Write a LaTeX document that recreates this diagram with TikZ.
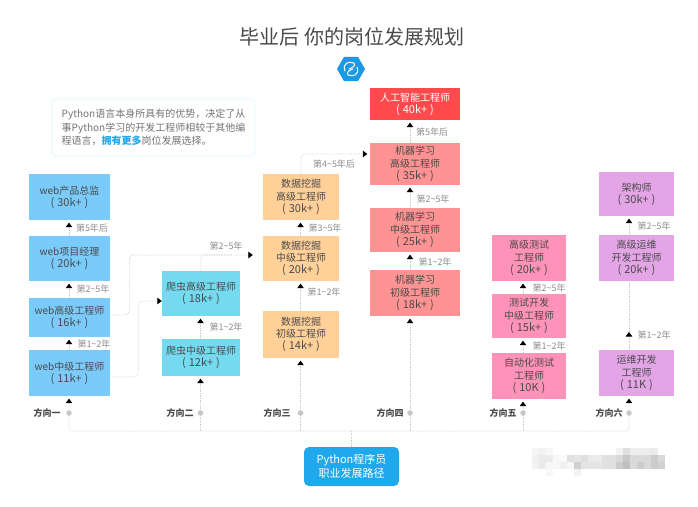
\documentclass[tikz,border=0pt]{standalone}
\usepackage{fontspec}
\usepackage{xcolor}
\usetikzlibrary{positioning,arrows.meta,shapes.geometric,calc,backgrounds}
\setmainfont{Noto Sans CJK SC}
\definecolor{ink}{HTML}{4A4A4A}
\definecolor{webblue}{HTML}{7ACBFA}
\definecolor{crawl}{HTML}{73DAF0}
\definecolor{mining}{HTML}{FFD199}
\definecolor{mlred}{HTML}{FF9292}
\definecolor{aired}{HTML}{FF4A4D}
\definecolor{testpink}{HTML}{FF92B8}
\definecolor{opsviolet}{HTML}{E3A5E6}
\definecolor{hubblue}{HTML}{1FA8EC}
\definecolor{logoblue}{HTML}{1A9AE2}
\newcommand{\tld}{\char"7E\relax}
\newcommand{\pay}[1]{{\fontsize{11}{12.2}\selectfont (\hspace{3pt}#1\hspace{3pt})}}

\begin{document}
\begin{tikzpicture}[x=1pt,y=-1pt,every node/.style={font=\fontsize{10}{12.2}\selectfont}]
    \tikzstyle{job}=[inner sep=0pt,align=center,text=ink];
    \tikzstyle{web}=[job,fill=webblue,minimum width=81pt];
    \tikzstyle{spider}=[job,fill=crawl,minimum width=78pt];
    \tikzstyle{datamine}=[job,fill=mining,minimum width=76pt];
    \tikzstyle{ml}=[job,fill=mlred,minimum width=90pt];
    \tikzstyle{qa}=[job,fill=testpink,minimum width=74pt];
    \tikzstyle{ops}=[job,fill=opsviolet,minimum width=75pt];
    \tikzstyle{yrs}=[text=black!45,font=\fontsize{9}{11}\selectfont,inner sep=0pt];
    \tikzstyle{dir}=[text=ink,font=\fontsize{9}{11}\selectfont\bfseries,inner sep=0pt];
    \tikzstyle{spot}=[circle,fill=black!22,minimum size=5.5pt,inner sep=0pt];
    \tikzstyle{link}=[draw=black!20,densely dotted,line width=0.7pt];
    \tikzstyle{flow}=[link,shorten >=2.5pt,-{Triangle[length=4.5pt,width=6.5pt,color=black]}];
    \useasboundingbox (0,0) rectangle (698,506);

    \node[text=ink,font=\fontsize{20}{24}\selectfont,inner sep=0pt] (title) at (352,37) {毕业后 你的岗位发展规划};
    \node[regular polygon,regular polygon sides=6,shape border rotate=0,fill=logoblue,minimum size=28pt,inner sep=0pt] (logo) at (351,69) {};
    \draw[white,line width=1pt,line cap=round] (345,71) .. controls (342,63) and (349,61) .. (354,63)
          .. controls (356,66) and (352,68) .. (349,69);
    \draw[white,line width=1pt,line cap=round] (357,67) .. controls (360,75) and (353,77) .. (348,75)
          .. controls (346,72) and (350,70) .. (353,69);

    \node[draw=blue!30!cyan!12,rounded corners=4pt,line width=0.7pt,minimum width=203pt,minimum height=57pt,
          inner sep=0pt,align=left,text=black!55,font=\fontsize{10}{13.6}\selectfont] (note) at (153.5,127.5)
          {Python语言本身所具有的优势，决定了从\\事Python学习的开发工程师相较于其他编\\程语言，\textcolor{hubblue}{\bfseries 拥有更多}岗位发展选择。};

    % direction one
    \node[web,minimum height=46pt] (w4) at (69.5,197)   {web产品总监\\\pay{30k+}};
    \node[web,minimum height=45pt] (w3) at (69.5,258.5) {web项目经理\\\pay{20k+}};
    \node[web,minimum height=39pt] (w2) at (69.5,317.5) {web高级工程师\\\pay{16k+}};
    \node[web,minimum height=46pt] (w1) at (69.5,373)   {web中级工程师\\\pay{11k+}};
    \node[spot] (d1) at (69,413) {};
    \node[dir]  (l1) at (47,413) {方向一};
    \node[yrs]  (y41) at (92,228) {第5年后};
    \node[yrs]  (y42) at (93,289) {第2\tld 5年};
    \node[yrs]  (y43) at (94,344) {第1\tld 2年};

    % direction two
    \node[spider,minimum height=45pt] (c2) at (201,293.5) {爬虫高级工程师\\\pay{18k+}};
    \node[spider,minimum height=37pt] (c1) at (201,357.5) {爬虫中级工程师\\\pay{12k+}};
    \node[spot] (d2) at (200.5,413) {};
    \node[dir]  (l2) at (180,413) {方向二};
    \node[yrs]  (y21) at (226,327) {第1\tld 2年};
    \node[yrs]  (y22) at (226,246) {第2\tld 5年};

    % direction three
    \node[datamine,minimum height=46pt] (s3) at (301,197)   {数据挖掘\\高级工程师\\\pay{30k+}};
    \node[datamine,minimum height=45pt] (s2) at (301,258.5) {数据挖掘\\中级工程师\\\pay{20k+}};
    \node[datamine,minimum height=47pt] (s1) at (301,334.5) {数据挖掘\\初级工程师\\\pay{14k+}};
    \node[spot] (d3) at (300.5,413) {};
    \node[dir]  (l3) at (277,413) {方向三};
    \node[yrs]  (y31) at (325,228) {第3\tld 5年};
    \node[yrs]  (y32) at (324,292) {第1\tld 2年};
    \node[yrs]  (y33) at (334,164) {第4\tld 5年后};

    % direction four
    \node[ml,fill=aired,text=white,minimum height=32pt] (ai) at (415,104) {人工智能工程师\\\pay{40k+}};
    \node[ml,minimum height=42pt] (m3) at (415,164) {机器学习\\高级工程师\\\pay{35k+}};
    \node[ml,minimum height=44pt] (m2) at (415,230) {机器学习\\中级工程师\\\pay{25k+}};
    \node[ml,minimum height=46pt] (m1) at (415,293) {机器学习\\初级工程师\\\pay{18k+}};
    \node[spot] (d4) at (410,413) {};
    \node[dir]  (l4) at (390,413) {方向四};
    \node[yrs]  (y44a) at (432,132) {第5年后};
    \node[yrs]  (y44b) at (433,199) {第2\tld 5年};
    \node[yrs]  (y44c) at (435,262) {第1\tld 2年};

    % direction five
    \node[qa,minimum height=46pt] (t3) at (529,258) {高级测试\\工程师\\\pay{20k+}};
    \node[qa,minimum height=44pt] (t2) at (529,316) {测试开发\\中级工程师\\\pay{15k+}};
    \node[qa,minimum height=46pt] (t1) at (529,376) {自动化测试\\工程师\\\pay{10K}};
    \node[spot] (d5) at (523,413) {};
    \node[dir]  (l5) at (503,413) {方向五};
    \node[yrs]  (y51) at (549,288) {第2\tld 5年};
    \node[yrs]  (y52) at (549,346) {第1\tld 2年};

    % direction six
    \node[ops,minimum height=44pt] (o3) at (636.5,194) {架构师\\\pay{30k+}};
    \node[ops,minimum height=46pt] (o2) at (636.5,258) {高级运维\\开发工程师\\\pay{20k+}};
    \node[ops,minimum height=46pt] (o1) at (636.5,373) {运维开发\\工程师\\\pay{11K}};
    \node[spot] (d6) at (629,413) {};
    \node[dir]  (l6) at (609,413) {方向六};
    \node[yrs]  (y61) at (654,226) {第2\tld 5年};
    \node[yrs]  (y62) at (654,335) {第1\tld 2年};
    \coordinate (o1tip) at (629,332);

    \node[fill=hubblue,rounded corners=5pt,minimum width=95pt,minimum height=39pt,inner sep=0pt,align=center,
          text=white,font=\fontsize{11}{13.4}\selectfont] (py) at (351.5,466.5) {Python程序员\\职业发展路径};
    \coordinate (bus) at (351.5,431);

    % watermark
    \foreach \wx/\wy/\wg in {532/448/4,539/448/5,546/448/3,616/448/5,623/448/12,630/448/7,637/448/7,644/448/7,651/448/8,
      532/455/6,539/455/8,546/455/8,553/455/3,560/455/2,567/455/12,574/455/10,581/455/12,588/455/8,595/455/8,602/455/12,
      609/455/12,616/455/15,623/455/22,630/455/15,637/455/15,644/455/15,651/455/20,658/455/15,
      532/462/5,539/462/8,546/462/3,553/462/3,560/462/6,567/462/3,574/462/18,581/462/10,588/462/10,595/462/10,602/462/12,
      609/462/12,616/462/20,623/462/25,630/462/15,637/462/20,644/462/15,651/462/20,658/462/18,546/469/3,574/469/5}
      \fill[black!\wg] (\wx,\wy) rectangle ++(7,7);

    \begin{scope}[on background layer]
    \draw[flow] (w3.north -| d1) -- (w4.south -| d1);
    \draw[flow] (w2.north -| d1) -- (w3.south -| d1);
    \draw[flow] (w1.north -| d1) -- (w2.south -| d1);
    \draw[flow] (c1.north -| d2) -- (c2.south -| d2);
    \draw[flow] (s2.north -| d3) -- (s3.south -| d3);
    \draw[flow] (s1.north -| d3) -- (s2.south -| d3);
    \draw[flow] (m3.north -| d4) -- (ai.south -| d4);
    \draw[flow] (m2.north -| d4) -- (m3.south -| d4);
    \draw[flow] (m1.north -| d4) -- (m2.south -| d4);
    \draw[flow] (t2.north -| d5) -- (t3.south -| d5);
    \draw[flow] (t1.north -| d5) -- (t2.south -| d5);
    \draw[flow] (o2.north -| d6) -- (o3.south -| d6);
    \draw[flow,shorten >=0pt] (o1.north -| d6) -- (o1tip);
    \draw[link] (o1tip) -- (o2.south -| d6);

    \draw[flow,shorten >=10pt,rounded corners=4pt] ($(w2.east)+(2,-2.5)$) -- ++(17,0) |- ($(s2.west)+(0,-3.5)$);
    \draw[link,rounded corners=4pt] (c2.north) |- ($(s2.west)+(-30,-3.5)$);
    \draw[flow,shorten >=0pt,rounded corners=4pt] ($(w1.east)+(2,4)$) -- ++(26,0) |- ($(c2.west)+(0,7.5)$);
    \draw[flow,rounded corners=4pt] (s3.north) |- ($(m3.west)+(0,-10)$);

    \draw[link] (bus) -- (py.north);
    \draw[flow,rounded corners=4pt] (bus) -| (w1.south -| d1);
    \draw[flow,rounded corners=4pt] (bus) -| (o1.south -| d6);
    \draw[flow] (bus -| d2) -- (c1.south -| d2);
    \draw[flow] (bus -| d3) -- (s1.south -| d3);
    \draw[flow] (bus -| d4) -- (m1.south -| d4);
    \draw[flow] (bus -| d5) -- (t1.south -| d5);
    \end{scope}
\end{tikzpicture}
\end{document}
